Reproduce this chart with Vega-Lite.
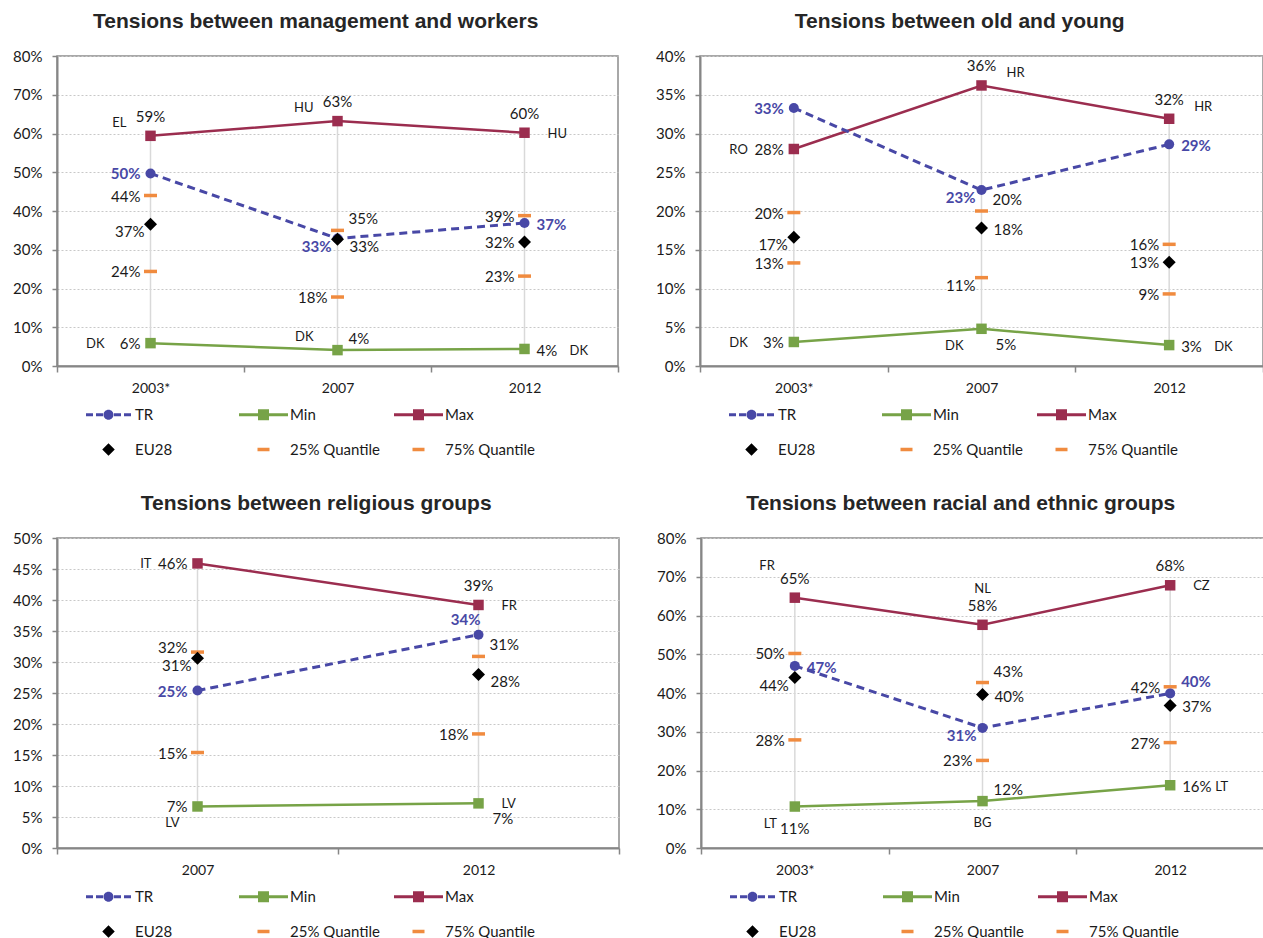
{
  "$schema": "https://vega.github.io/schema/vega-lite/v6.json",
  "background": "white",
  "padding": {"left": 11, "top": 10, "right": 0, "bottom": 0},
  "config": {
    "font": "Lato",
    "view": {"stroke": "#8c8c8c", "strokeWidth": 1.5},
    "axisY": {"domainColor": "#868686", "domainWidth": 2, "tickColor": "#868686", "tickWidth": 1.5, "tickSize": 5, "labelFontSize": 15, "labelColor": "#1a1a1a", "labelPadding": 10, "grid": true, "gridColor": "#c8c8c8", "gridDash": [2, 2], "gridWidth": 1},
    "axisX": {"domainColor": "#868686", "domainWidth": 2, "tickColor": "#868686", "tickWidth": 1.5, "tickSize": 6, "labelFontSize": 14, "labelColor": "#1a1a1a", "labelPadding": 9, "grid": false, "tickBand": "extent", "labelAngle": 0},
    "title": {"font": "Liberation Sans", "fontSize": 21, "fontWeight": "bold", "color": "#262626", "offset": 17, "frame": "bounds", "anchor": "middle"}
  },
  "datasets": {
    "d": [
      {"panel": "A", "year": "2003*", "series": "TR", "value": 0.497, "pos": "W"},
      {"panel": "A", "year": "2003*", "series": "Min", "value": 0.059, "pos": "W", "country": "DK", "cpos": "WW"},
      {"panel": "A", "year": "2003*", "series": "Max", "value": 0.594, "pos": "N", "country": "EL", "cpos": "NWW"},
      {"panel": "A", "year": "2003*", "series": "EU28", "value": 0.366, "pos": "SW"},
      {"panel": "A", "year": "2003*", "series": "25% Quantile", "value": 0.244, "pos": "W"},
      {"panel": "A", "year": "2003*", "series": "75% Quantile", "value": 0.440, "pos": "W"},
      {"panel": "A", "year": "2007", "series": "TR", "value": 0.329, "pos": "SW"},
      {"panel": "A", "year": "2007", "series": "Min", "value": 0.041, "pos": "NE", "country": "DK", "cpos": "NWW"},
      {"panel": "A", "year": "2007", "series": "Max", "value": 0.632, "pos": "N", "country": "HU", "cpos": "NWW"},
      {"panel": "A", "year": "2007", "series": "EU28", "value": 0.327, "pos": "SE"},
      {"panel": "A", "year": "2007", "series": "25% Quantile", "value": 0.178, "pos": "W"},
      {"panel": "A", "year": "2007", "series": "75% Quantile", "value": 0.350, "pos": "NE"},
      {"panel": "A", "year": "2012", "series": "TR", "value": 0.369, "pos": "E"},
      {"panel": "A", "year": "2012", "series": "Min", "value": 0.044, "pos": "E", "country": "DK", "cpos": "EE"},
      {"panel": "A", "year": "2012", "series": "Max", "value": 0.602, "pos": "N", "country": "HU", "cpos": "E2"},
      {"panel": "A", "year": "2012", "series": "EU28", "value": 0.320, "pos": "W"},
      {"panel": "A", "year": "2012", "series": "25% Quantile", "value": 0.232, "pos": "W"},
      {"panel": "A", "year": "2012", "series": "75% Quantile", "value": 0.388, "pos": "W"},

      {"panel": "B", "year": "2003*", "series": "TR", "value": 0.333, "pos": "W"},
      {"panel": "B", "year": "2003*", "series": "Min", "value": 0.031, "pos": "W", "country": "DK", "cpos": "WW"},
      {"panel": "B", "year": "2003*", "series": "Max", "value": 0.280, "pos": "W", "country": "RO", "cpos": "WW"},
      {"panel": "B", "year": "2003*", "series": "EU28", "value": 0.166, "pos": "SW"},
      {"panel": "B", "year": "2003*", "series": "25% Quantile", "value": 0.133, "pos": "W"},
      {"panel": "B", "year": "2003*", "series": "75% Quantile", "value": 0.198, "pos": "W"},
      {"panel": "B", "year": "2007", "series": "TR", "value": 0.227, "pos": "SW"},
      {"panel": "B", "year": "2007", "series": "Min", "value": 0.048, "pos": "SSE", "country": "DK", "cpos": "SW2"},
      {"panel": "B", "year": "2007", "series": "Max", "value": 0.362, "pos": "N", "country": "HR", "cpos": "NEE"},
      {"panel": "B", "year": "2007", "series": "EU28", "value": 0.178, "pos": "E"},
      {"panel": "B", "year": "2007", "series": "25% Quantile", "value": 0.114, "pos": "SW"},
      {"panel": "B", "year": "2007", "series": "75% Quantile", "value": 0.200, "pos": "NE"},
      {"panel": "B", "year": "2012", "series": "TR", "value": 0.286, "pos": "E"},
      {"panel": "B", "year": "2012", "series": "Min", "value": 0.027, "pos": "E", "country": "DK", "cpos": "EE"},
      {"panel": "B", "year": "2012", "series": "Max", "value": 0.319, "pos": "N", "country": "HR", "cpos": "NEE"},
      {"panel": "B", "year": "2012", "series": "EU28", "value": 0.134, "pos": "W"},
      {"panel": "B", "year": "2012", "series": "25% Quantile", "value": 0.093, "pos": "W"},
      {"panel": "B", "year": "2012", "series": "75% Quantile", "value": 0.157, "pos": "W"},

      {"panel": "C", "year": "2007", "series": "TR", "value": 0.254, "pos": "W"},
      {"panel": "C", "year": "2007", "series": "Min", "value": 0.067, "pos": "W", "country": "LV", "cpos": "SW2"},
      {"panel": "C", "year": "2007", "series": "Max", "value": 0.459, "pos": "W", "country": "IT", "cpos": "WW"},
      {"panel": "C", "year": "2007", "series": "EU28", "value": 0.306, "pos": "SW"},
      {"panel": "C", "year": "2007", "series": "25% Quantile", "value": 0.154, "pos": "W"},
      {"panel": "C", "year": "2007", "series": "75% Quantile", "value": 0.316, "pos": "WN"},
      {"panel": "C", "year": "2012", "series": "TR", "value": 0.344, "pos": "NW"},
      {"panel": "C", "year": "2012", "series": "Min", "value": 0.072, "pos": "SSE", "country": "LV", "cpos": "E2"},
      {"panel": "C", "year": "2012", "series": "Max", "value": 0.392, "pos": "N", "country": "FR", "cpos": "E2"},
      {"panel": "C", "year": "2012", "series": "EU28", "value": 0.280, "pos": "SE"},
      {"panel": "C", "year": "2012", "series": "25% Quantile", "value": 0.184, "pos": "W"},
      {"panel": "C", "year": "2012", "series": "75% Quantile", "value": 0.309, "pos": "NE"},

      {"panel": "D", "year": "2003*", "series": "TR", "value": 0.470, "pos": "E"},
      {"panel": "D", "year": "2003*", "series": "Min", "value": 0.107, "pos": "S", "country": "LT", "cpos": "SW2"},
      {"panel": "D", "year": "2003*", "series": "Max", "value": 0.646, "pos": "N", "country": "FR", "cpos": "NNW"},
      {"panel": "D", "year": "2003*", "series": "EU28", "value": 0.440, "pos": "SW"},
      {"panel": "D", "year": "2003*", "series": "25% Quantile", "value": 0.279, "pos": "W"},
      {"panel": "D", "year": "2003*", "series": "75% Quantile", "value": 0.502, "pos": "W"},
      {"panel": "D", "year": "2007", "series": "TR", "value": 0.310, "pos": "SW"},
      {"panel": "D", "year": "2007", "series": "Min", "value": 0.121, "pos": "NE", "country": "BG", "cpos": "S"},
      {"panel": "D", "year": "2007", "series": "Max", "value": 0.576, "pos": "N", "country": "NL", "cpos": "NN"},
      {"panel": "D", "year": "2007", "series": "EU28", "value": 0.396, "pos": "E"},
      {"panel": "D", "year": "2007", "series": "25% Quantile", "value": 0.226, "pos": "W"},
      {"panel": "D", "year": "2007", "series": "75% Quantile", "value": 0.427, "pos": "NE"},
      {"panel": "D", "year": "2012", "series": "TR", "value": 0.399, "pos": "NE"},
      {"panel": "D", "year": "2012", "series": "Min", "value": 0.162, "pos": "E", "country": "LT", "cpos": "EE"},
      {"panel": "D", "year": "2012", "series": "Max", "value": 0.678, "pos": "N", "country": "CZ", "cpos": "E2"},
      {"panel": "D", "year": "2012", "series": "EU28", "value": 0.368, "pos": "E"},
      {"panel": "D", "year": "2012", "series": "25% Quantile", "value": 0.272, "pos": "W"},
      {"panel": "D", "year": "2012", "series": "75% Quantile", "value": 0.416, "pos": "W"}
    ]
  },
  "resolve": {"scale": {"color": "independent", "shape": "independent"}, "legend": {"color": "independent", "shape": "independent"}},
  "spacing": 33,
  "vconcat": [
    {
      "spacing": 34,
      "resolve": {"scale": {"color": "independent", "shape": "independent"}, "legend": {"color": "independent", "shape": "independent"}},
      "hconcat": [
        {
          "title": "Tensions between management and workers",
          "width": 561, "height": 310,
          "data": {"name": "d"},
          "transform": [{"filter": "datum.panel == 'A'"}],
          "encoding": {
            "x": {"field": "year", "type": "nominal", "sort": ["2003*", "2007", "2012"], "scale": {"type": "band", "paddingInner": 0, "paddingOuter": 0}, "axis": {"title": null}},
            "y": {"field": "value", "type": "quantitative", "scale": {"domain": [0, 0.8], "nice": false}, "axis": {"title": null, "format": ".0%", "values": [0, 0.1, 0.2, 0.3, 0.4, 0.5, 0.6, 0.7, 0.8]}}
          },
          "layer": [
            {"mark": {"type": "rule", "color": "#d9d9d9", "strokeWidth": 1.5}, "encoding": {"y": {"aggregate": "min", "field": "value", "type": "quantitative", "scale": {"domain": [0, 0.8], "nice": false}, "axis": {"title": null, "format": ".0%", "values": [0, 0.1, 0.2, 0.3, 0.4, 0.5, 0.6, 0.7, 0.8]}}, "y2": {"aggregate": "max", "field": "value"}}},
            {"transform": [{"filter": "datum.series == 'Max'"}], "mark": {"type": "line", "color": "#9b2d4f", "strokeWidth": 2.5}},
            {"transform": [{"filter": "datum.series == 'Min'"}], "mark": {"type": "line", "color": "#77a347", "strokeWidth": 2.5}},
            {"transform": [{"filter": "datum.series == 'TR'"}], "mark": {"type": "line", "color": "#4848a6", "strokeWidth": 3, "strokeDash": [8, 5]}},
            {"transform": [{"filter": "datum.series == '25% Quantile' || datum.series == '75% Quantile'"}], "mark": {"type": "tick", "color": "#f08b3f", "opacity": 1, "thickness": 3.5, "size": 13, "orient": "horizontal"}},
            {"transform": [{"filter": "datum.series == 'Max'"}], "mark": {"type": "point", "shape": "square", "filled": true, "opacity": 1, "color": "#9b2d4f", "size": 110}},
            {"transform": [{"filter": "datum.series == 'Min'"}], "mark": {"type": "point", "shape": "square", "filled": true, "opacity": 1, "color": "#77a347", "size": 110}},
            {"transform": [{"filter": "datum.series == 'TR'"}], "mark": {"type": "point", "shape": "circle", "filled": true, "opacity": 1, "color": "#4848a6", "size": 100}},
            {"transform": [{"filter": "datum.series == 'EU28'"}], "mark": {"type": "point", "shape": "diamond", "filled": true, "opacity": 1, "color": "#000000", "size": 170}},
            {"transform": [{"filter": "datum.series == 'none'"}], "mark": {"type": "point", "filled": true, "opacity": 1},
              "encoding": {
                "color": {"field": "series", "type": "nominal", "scale": {"domain": ["TR", "Min", "Max", "EU28", "25% Quantile", "75% Quantile"], "range": ["#4848a6", "#77a347", "#9b2d4f", "#000000", "#f08b3f", "#f08b3f"]},
                  "legend": {"title": null, "orient": "none", "legendX": 44, "legendY": 351, "direction": "horizontal", "columns": 3, "columnPadding": 14, "rowPadding": 19, "symbolSize": 100, "symbolStrokeWidth": 0, "symbolOpacity": 1, "labelOffset": 19, "labelFontSize": 15, "labelFont": "Lato", "labelColor": "#1a1a1a", "padding": 0, "gridAlign": "all", "labelLimit": 200}},
                "shape": {"field": "series", "type": "nominal", "scale": {"domain": ["TR", "Min", "Max", "EU28", "25% Quantile", "75% Quantile"], "range": [
                  "M-4.9,0L-4.9,0M4.9,0L4.9,0M-4.5,-0.3H-3.1V0.3H-4.5ZM-2.5,-0.3H-1.1V0.3H-2.5ZM1.1,-0.3H2.5V0.3H1.1ZM3.1,-0.3H4.5V0.3H3.1ZM-1,0A1,1,0,1,0,1,0A1,1,0,1,0,-1,0Z",
                  "M-4.9,-0.3H4.9V0.3H-4.9ZM-1.1,-1.1H1.1V1.1H-1.1Z",
                  "M-4.9,-0.3H4.9V0.3H-4.9ZM-1.1,-1.1H1.1V1.1H-1.1Z",
                  "M-4.9,0L-4.9,0M4.9,0L4.9,0M0,-1.25L1.25,0L0,1.25L-1.25,0Z",
                  "M-4.9,0L-4.9,0M4.9,0L4.9,0M-1.2,-0.35H1.2V0.35H-1.2Z",
                  "M-4.9,0L-4.9,0M4.9,0L4.9,0M-1.2,-0.35H1.2V0.35H-1.2Z"]},
                  "legend": {"title": null, "orient": "none", "legendX": 44, "legendY": 351, "direction": "horizontal", "columns": 3, "columnPadding": 14, "rowPadding": 19, "symbolSize": 100, "symbolStrokeWidth": 0, "symbolOpacity": 1, "labelOffset": 19, "labelFontSize": 15, "labelFont": "Lato", "labelColor": "#1a1a1a", "padding": 0, "gridAlign": "all", "labelLimit": 200}}
              }},
            {"transform": [{"fold": ["pos", "cpos"], "as": ["kind", "where"]}, {"filter": "datum.where != null"}],
              "mark": {"type": "text", "font": "Lato", "baseline": "middle",
                "dx": {"expr": "({N:0,S:0,W:-10,WN:-10,E:12,NE:11,NW:2,SE:12,SW:-6,SSE:14,WW:-46,EE:45,E2:23,NWW:-24,NEE:25,SW2:-18,NNW:-20,NN:0})[datum.where]"},
                "dy": {"expr": "({N:-19,S:22,W:1,WN:-4,E:2,NE:-11,NW:-15,SE:8,SW:8,SSE:16,WW:1,EE:2,E2:1,NWW:-13,NEE:-12,SW2:17,NNW:-32,NN:-36})[datum.where]"},
                "align": {"expr": "indexof(['N','S','NN'], datum.where) >= 0 ? 'center' : (indexof(['W','WN','NW','SW','WW','NWW','SW2','NNW'], datum.where) >= 0 ? 'right' : 'left')"},
                "fontSize": {"expr": "datum.kind == 'cpos' ? 13 : 15"},
                "fontWeight": {"expr": "datum.kind == 'pos' && datum.series == 'TR' ? 'bold' : 'normal'"}},
              "encoding": {
                "text": {"condition": {"test": "datum.kind == 'cpos'", "field": "country", "type": "nominal"}, "field": "value", "type": "quantitative", "format": ".0%"},
                "color": {"condition": {"test": "datum.kind == 'pos' && datum.series == 'TR'", "value": "#4848a6"}, "value": "#1a1a1a"}
              }}
          ]
        },
        {
          "title": "Tensions between old and young",
          "width": 563, "height": 310,
          "data": {"name": "d"},
          "transform": [{"filter": "datum.panel == 'B'"}],
          "encoding": {
            "x": {"field": "year", "type": "nominal", "sort": ["2003*", "2007", "2012"], "scale": {"type": "band", "paddingInner": 0, "paddingOuter": 0}, "axis": {"title": null}},
            "y": {"field": "value", "type": "quantitative", "scale": {"domain": [0, 0.4], "nice": false}, "axis": {"title": null, "format": ".0%", "values": [0, 0.05, 0.1, 0.15, 0.2, 0.25, 0.3, 0.35, 0.4]}}
          },
          "layer": [
            {"mark": {"type": "rule", "color": "#d9d9d9", "strokeWidth": 1.5}, "encoding": {"y": {"aggregate": "min", "field": "value", "type": "quantitative", "scale": {"domain": [0, 0.4], "nice": false}, "axis": {"title": null, "format": ".0%", "values": [0, 0.05, 0.1, 0.15, 0.2, 0.25, 0.3, 0.35, 0.4]}}, "y2": {"aggregate": "max", "field": "value"}}},
            {"transform": [{"filter": "datum.series == 'Max'"}], "mark": {"type": "line", "color": "#9b2d4f", "strokeWidth": 2.5}},
            {"transform": [{"filter": "datum.series == 'Min'"}], "mark": {"type": "line", "color": "#77a347", "strokeWidth": 2.5}},
            {"transform": [{"filter": "datum.series == 'TR'"}], "mark": {"type": "line", "color": "#4848a6", "strokeWidth": 3, "strokeDash": [8, 5]}},
            {"transform": [{"filter": "datum.series == '25% Quantile' || datum.series == '75% Quantile'"}], "mark": {"type": "tick", "color": "#f08b3f", "opacity": 1, "thickness": 3.5, "size": 13, "orient": "horizontal"}},
            {"transform": [{"filter": "datum.series == 'Max'"}], "mark": {"type": "point", "shape": "square", "filled": true, "opacity": 1, "color": "#9b2d4f", "size": 110}},
            {"transform": [{"filter": "datum.series == 'Min'"}], "mark": {"type": "point", "shape": "square", "filled": true, "opacity": 1, "color": "#77a347", "size": 110}},
            {"transform": [{"filter": "datum.series == 'TR'"}], "mark": {"type": "point", "shape": "circle", "filled": true, "opacity": 1, "color": "#4848a6", "size": 100}},
            {"transform": [{"filter": "datum.series == 'EU28'"}], "mark": {"type": "point", "shape": "diamond", "filled": true, "opacity": 1, "color": "#000000", "size": 170}},
            {"transform": [{"filter": "datum.series == 'none'"}], "mark": {"type": "point", "filled": true, "opacity": 1},
              "encoding": {
                "color": {"field": "series", "type": "nominal", "scale": {"domain": ["TR", "Min", "Max", "EU28", "25% Quantile", "75% Quantile"], "range": ["#4848a6", "#77a347", "#9b2d4f", "#000000", "#f08b3f", "#f08b3f"]},
                  "legend": {"title": null, "orient": "none", "legendX": 44, "legendY": 351, "direction": "horizontal", "columns": 3, "columnPadding": 14, "rowPadding": 19, "symbolSize": 100, "symbolStrokeWidth": 0, "symbolOpacity": 1, "labelOffset": 19, "labelFontSize": 15, "labelFont": "Lato", "labelColor": "#1a1a1a", "padding": 0, "gridAlign": "all", "labelLimit": 200}},
                "shape": {"field": "series", "type": "nominal", "scale": {"domain": ["TR", "Min", "Max", "EU28", "25% Quantile", "75% Quantile"], "range": [
                  "M-4.9,0L-4.9,0M4.9,0L4.9,0M-4.5,-0.3H-3.1V0.3H-4.5ZM-2.5,-0.3H-1.1V0.3H-2.5ZM1.1,-0.3H2.5V0.3H1.1ZM3.1,-0.3H4.5V0.3H3.1ZM-1,0A1,1,0,1,0,1,0A1,1,0,1,0,-1,0Z",
                  "M-4.9,-0.3H4.9V0.3H-4.9ZM-1.1,-1.1H1.1V1.1H-1.1Z",
                  "M-4.9,-0.3H4.9V0.3H-4.9ZM-1.1,-1.1H1.1V1.1H-1.1Z",
                  "M-4.9,0L-4.9,0M4.9,0L4.9,0M0,-1.25L1.25,0L0,1.25L-1.25,0Z",
                  "M-4.9,0L-4.9,0M4.9,0L4.9,0M-1.2,-0.35H1.2V0.35H-1.2Z",
                  "M-4.9,0L-4.9,0M4.9,0L4.9,0M-1.2,-0.35H1.2V0.35H-1.2Z"]},
                  "legend": {"title": null, "orient": "none", "legendX": 44, "legendY": 351, "direction": "horizontal", "columns": 3, "columnPadding": 14, "rowPadding": 19, "symbolSize": 100, "symbolStrokeWidth": 0, "symbolOpacity": 1, "labelOffset": 19, "labelFontSize": 15, "labelFont": "Lato", "labelColor": "#1a1a1a", "padding": 0, "gridAlign": "all", "labelLimit": 200}}
              }},
            {"transform": [{"fold": ["pos", "cpos"], "as": ["kind", "where"]}, {"filter": "datum.where != null"}],
              "mark": {"type": "text", "font": "Lato", "baseline": "middle",
                "dx": {"expr": "({N:0,S:0,W:-10,WN:-10,E:12,NE:11,NW:2,SE:12,SW:-6,SSE:14,WW:-46,EE:45,E2:23,NWW:-24,NEE:25,SW2:-18,NNW:-20,NN:0})[datum.where]"},
                "dy": {"expr": "({N:-19,S:22,W:1,WN:-4,E:2,NE:-11,NW:-15,SE:8,SW:8,SSE:16,WW:1,EE:2,E2:1,NWW:-13,NEE:-12,SW2:17,NNW:-32,NN:-36})[datum.where]"},
                "align": {"expr": "indexof(['N','S','NN'], datum.where) >= 0 ? 'center' : (indexof(['W','WN','NW','SW','WW','NWW','SW2','NNW'], datum.where) >= 0 ? 'right' : 'left')"},
                "fontSize": {"expr": "datum.kind == 'cpos' ? 13 : 15"},
                "fontWeight": {"expr": "datum.kind == 'pos' && datum.series == 'TR' ? 'bold' : 'normal'"}},
              "encoding": {
                "text": {"condition": {"test": "datum.kind == 'cpos'", "field": "country", "type": "nominal"}, "field": "value", "type": "quantitative", "format": ".0%"},
                "color": {"condition": {"test": "datum.kind == 'pos' && datum.series == 'TR'", "value": "#4848a6"}, "value": "#1a1a1a"}
              }}
          ]
        }
      ]
    },
    {
      "spacing": 34,
      "resolve": {"scale": {"color": "independent", "shape": "independent"}, "legend": {"color": "independent", "shape": "independent"}},
      "hconcat": [
        {
          "title": "Tensions between religious groups",
          "width": 562, "height": 310,
          "data": {"name": "d"},
          "transform": [{"filter": "datum.panel == 'C'"}],
          "encoding": {
            "x": {"field": "year", "type": "nominal", "sort": ["2007", "2012"], "scale": {"type": "band", "paddingInner": 0, "paddingOuter": 0}, "axis": {"title": null}},
            "y": {"field": "value", "type": "quantitative", "scale": {"domain": [0, 0.5], "nice": false}, "axis": {"title": null, "format": ".0%", "values": [0, 0.05, 0.1, 0.15, 0.2, 0.25, 0.3, 0.35, 0.4, 0.45, 0.5]}}
          },
          "layer": [
            {"mark": {"type": "rule", "color": "#d9d9d9", "strokeWidth": 1.5}, "encoding": {"y": {"aggregate": "min", "field": "value", "type": "quantitative", "scale": {"domain": [0, 0.5], "nice": false}, "axis": {"title": null, "format": ".0%", "values": [0, 0.05, 0.1, 0.15, 0.2, 0.25, 0.3, 0.35, 0.4, 0.45, 0.5]}}, "y2": {"aggregate": "max", "field": "value"}}},
            {"transform": [{"filter": "datum.series == 'Max'"}], "mark": {"type": "line", "color": "#9b2d4f", "strokeWidth": 2.5}},
            {"transform": [{"filter": "datum.series == 'Min'"}], "mark": {"type": "line", "color": "#77a347", "strokeWidth": 2.5}},
            {"transform": [{"filter": "datum.series == 'TR'"}], "mark": {"type": "line", "color": "#4848a6", "strokeWidth": 3, "strokeDash": [8, 5]}},
            {"transform": [{"filter": "datum.series == '25% Quantile' || datum.series == '75% Quantile'"}], "mark": {"type": "tick", "color": "#f08b3f", "opacity": 1, "thickness": 3.5, "size": 13, "orient": "horizontal"}},
            {"transform": [{"filter": "datum.series == 'Max'"}], "mark": {"type": "point", "shape": "square", "filled": true, "opacity": 1, "color": "#9b2d4f", "size": 110}},
            {"transform": [{"filter": "datum.series == 'Min'"}], "mark": {"type": "point", "shape": "square", "filled": true, "opacity": 1, "color": "#77a347", "size": 110}},
            {"transform": [{"filter": "datum.series == 'TR'"}], "mark": {"type": "point", "shape": "circle", "filled": true, "opacity": 1, "color": "#4848a6", "size": 100}},
            {"transform": [{"filter": "datum.series == 'EU28'"}], "mark": {"type": "point", "shape": "diamond", "filled": true, "opacity": 1, "color": "#000000", "size": 170}},
            {"transform": [{"filter": "datum.series == 'none'"}], "mark": {"type": "point", "filled": true, "opacity": 1},
              "encoding": {
                "color": {"field": "series", "type": "nominal", "scale": {"domain": ["TR", "Min", "Max", "EU28", "25% Quantile", "75% Quantile"], "range": ["#4848a6", "#77a347", "#9b2d4f", "#000000", "#f08b3f", "#f08b3f"]},
                  "legend": {"title": null, "orient": "none", "legendX": 44, "legendY": 351, "direction": "horizontal", "columns": 3, "columnPadding": 14, "rowPadding": 19, "symbolSize": 100, "symbolStrokeWidth": 0, "symbolOpacity": 1, "labelOffset": 19, "labelFontSize": 15, "labelFont": "Lato", "labelColor": "#1a1a1a", "padding": 0, "gridAlign": "all", "labelLimit": 200}},
                "shape": {"field": "series", "type": "nominal", "scale": {"domain": ["TR", "Min", "Max", "EU28", "25% Quantile", "75% Quantile"], "range": [
                  "M-4.9,0L-4.9,0M4.9,0L4.9,0M-4.5,-0.3H-3.1V0.3H-4.5ZM-2.5,-0.3H-1.1V0.3H-2.5ZM1.1,-0.3H2.5V0.3H1.1ZM3.1,-0.3H4.5V0.3H3.1ZM-1,0A1,1,0,1,0,1,0A1,1,0,1,0,-1,0Z",
                  "M-4.9,-0.3H4.9V0.3H-4.9ZM-1.1,-1.1H1.1V1.1H-1.1Z",
                  "M-4.9,-0.3H4.9V0.3H-4.9ZM-1.1,-1.1H1.1V1.1H-1.1Z",
                  "M-4.9,0L-4.9,0M4.9,0L4.9,0M0,-1.25L1.25,0L0,1.25L-1.25,0Z",
                  "M-4.9,0L-4.9,0M4.9,0L4.9,0M-1.2,-0.35H1.2V0.35H-1.2Z",
                  "M-4.9,0L-4.9,0M4.9,0L4.9,0M-1.2,-0.35H1.2V0.35H-1.2Z"]},
                  "legend": {"title": null, "orient": "none", "legendX": 44, "legendY": 351, "direction": "horizontal", "columns": 3, "columnPadding": 14, "rowPadding": 19, "symbolSize": 100, "symbolStrokeWidth": 0, "symbolOpacity": 1, "labelOffset": 19, "labelFontSize": 15, "labelFont": "Lato", "labelColor": "#1a1a1a", "padding": 0, "gridAlign": "all", "labelLimit": 200}}
              }},
            {"transform": [{"fold": ["pos", "cpos"], "as": ["kind", "where"]}, {"filter": "datum.where != null"}],
              "mark": {"type": "text", "font": "Lato", "baseline": "middle",
                "dx": {"expr": "({N:0,S:0,W:-10,WN:-10,E:12,NE:11,NW:2,SE:12,SW:-6,SSE:14,WW:-46,EE:45,E2:23,NWW:-24,NEE:25,SW2:-18,NNW:-20,NN:0})[datum.where]"},
                "dy": {"expr": "({N:-19,S:22,W:1,WN:-4,E:2,NE:-11,NW:-15,SE:8,SW:8,SSE:16,WW:1,EE:2,E2:1,NWW:-13,NEE:-12,SW2:17,NNW:-32,NN:-36})[datum.where]"},
                "align": {"expr": "indexof(['N','S','NN'], datum.where) >= 0 ? 'center' : (indexof(['W','WN','NW','SW','WW','NWW','SW2','NNW'], datum.where) >= 0 ? 'right' : 'left')"},
                "fontSize": {"expr": "datum.kind == 'cpos' ? 13 : 15"},
                "fontWeight": {"expr": "datum.kind == 'pos' && datum.series == 'TR' ? 'bold' : 'normal'"}},
              "encoding": {
                "text": {"condition": {"test": "datum.kind == 'cpos'", "field": "country", "type": "nominal"}, "field": "value", "type": "quantitative", "format": ".0%"},
                "color": {"condition": {"test": "datum.kind == 'pos' && datum.series == 'TR'", "value": "#4848a6"}, "value": "#1a1a1a"}
              }}
          ]
        },
        {
          "title": "Tensions between racial and ethnic groups",
          "width": 563, "height": 310,
          "data": {"name": "d"},
          "transform": [{"filter": "datum.panel == 'D'"}],
          "encoding": {
            "x": {"field": "year", "type": "nominal", "sort": ["2003*", "2007", "2012"], "scale": {"type": "band", "paddingInner": 0, "paddingOuter": 0}, "axis": {"title": null}},
            "y": {"field": "value", "type": "quantitative", "scale": {"domain": [0, 0.8], "nice": false}, "axis": {"title": null, "format": ".0%", "values": [0, 0.1, 0.2, 0.3, 0.4, 0.5, 0.6, 0.7, 0.8]}}
          },
          "layer": [
            {"mark": {"type": "rule", "color": "#d9d9d9", "strokeWidth": 1.5}, "encoding": {"y": {"aggregate": "min", "field": "value", "type": "quantitative", "scale": {"domain": [0, 0.8], "nice": false}, "axis": {"title": null, "format": ".0%", "values": [0, 0.1, 0.2, 0.3, 0.4, 0.5, 0.6, 0.7, 0.8]}}, "y2": {"aggregate": "max", "field": "value"}}},
            {"transform": [{"filter": "datum.series == 'Max'"}], "mark": {"type": "line", "color": "#9b2d4f", "strokeWidth": 2.5}},
            {"transform": [{"filter": "datum.series == 'Min'"}], "mark": {"type": "line", "color": "#77a347", "strokeWidth": 2.5}},
            {"transform": [{"filter": "datum.series == 'TR'"}], "mark": {"type": "line", "color": "#4848a6", "strokeWidth": 3, "strokeDash": [8, 5]}},
            {"transform": [{"filter": "datum.series == '25% Quantile' || datum.series == '75% Quantile'"}], "mark": {"type": "tick", "color": "#f08b3f", "opacity": 1, "thickness": 3.5, "size": 13, "orient": "horizontal"}},
            {"transform": [{"filter": "datum.series == 'Max'"}], "mark": {"type": "point", "shape": "square", "filled": true, "opacity": 1, "color": "#9b2d4f", "size": 110}},
            {"transform": [{"filter": "datum.series == 'Min'"}], "mark": {"type": "point", "shape": "square", "filled": true, "opacity": 1, "color": "#77a347", "size": 110}},
            {"transform": [{"filter": "datum.series == 'TR'"}], "mark": {"type": "point", "shape": "circle", "filled": true, "opacity": 1, "color": "#4848a6", "size": 100}},
            {"transform": [{"filter": "datum.series == 'EU28'"}], "mark": {"type": "point", "shape": "diamond", "filled": true, "opacity": 1, "color": "#000000", "size": 170}},
            {"transform": [{"filter": "datum.series == 'none'"}], "mark": {"type": "point", "filled": true, "opacity": 1},
              "encoding": {
                "color": {"field": "series", "type": "nominal", "scale": {"domain": ["TR", "Min", "Max", "EU28", "25% Quantile", "75% Quantile"], "range": ["#4848a6", "#77a347", "#9b2d4f", "#000000", "#f08b3f", "#f08b3f"]},
                  "legend": {"title": null, "orient": "none", "legendX": 44, "legendY": 351, "direction": "horizontal", "columns": 3, "columnPadding": 14, "rowPadding": 19, "symbolSize": 100, "symbolStrokeWidth": 0, "symbolOpacity": 1, "labelOffset": 19, "labelFontSize": 15, "labelFont": "Lato", "labelColor": "#1a1a1a", "padding": 0, "gridAlign": "all", "labelLimit": 200}},
                "shape": {"field": "series", "type": "nominal", "scale": {"domain": ["TR", "Min", "Max", "EU28", "25% Quantile", "75% Quantile"], "range": [
                  "M-4.9,0L-4.9,0M4.9,0L4.9,0M-4.5,-0.3H-3.1V0.3H-4.5ZM-2.5,-0.3H-1.1V0.3H-2.5ZM1.1,-0.3H2.5V0.3H1.1ZM3.1,-0.3H4.5V0.3H3.1ZM-1,0A1,1,0,1,0,1,0A1,1,0,1,0,-1,0Z",
                  "M-4.9,-0.3H4.9V0.3H-4.9ZM-1.1,-1.1H1.1V1.1H-1.1Z",
                  "M-4.9,-0.3H4.9V0.3H-4.9ZM-1.1,-1.1H1.1V1.1H-1.1Z",
                  "M-4.9,0L-4.9,0M4.9,0L4.9,0M0,-1.25L1.25,0L0,1.25L-1.25,0Z",
                  "M-4.9,0L-4.9,0M4.9,0L4.9,0M-1.2,-0.35H1.2V0.35H-1.2Z",
                  "M-4.9,0L-4.9,0M4.9,0L4.9,0M-1.2,-0.35H1.2V0.35H-1.2Z"]},
                  "legend": {"title": null, "orient": "none", "legendX": 44, "legendY": 351, "direction": "horizontal", "columns": 3, "columnPadding": 14, "rowPadding": 19, "symbolSize": 100, "symbolStrokeWidth": 0, "symbolOpacity": 1, "labelOffset": 19, "labelFontSize": 15, "labelFont": "Lato", "labelColor": "#1a1a1a", "padding": 0, "gridAlign": "all", "labelLimit": 200}}
              }},
            {"transform": [{"fold": ["pos", "cpos"], "as": ["kind", "where"]}, {"filter": "datum.where != null"}],
              "mark": {"type": "text", "font": "Lato", "baseline": "middle",
                "dx": {"expr": "({N:0,S:0,W:-10,WN:-10,E:12,NE:11,NW:2,SE:12,SW:-6,SSE:14,WW:-46,EE:45,E2:23,NWW:-24,NEE:25,SW2:-18,NNW:-20,NN:0})[datum.where]"},
                "dy": {"expr": "({N:-19,S:22,W:1,WN:-4,E:2,NE:-11,NW:-15,SE:8,SW:8,SSE:16,WW:1,EE:2,E2:1,NWW:-13,NEE:-12,SW2:17,NNW:-32,NN:-36})[datum.where]"},
                "align": {"expr": "indexof(['N','S','NN'], datum.where) >= 0 ? 'center' : (indexof(['W','WN','NW','SW','WW','NWW','SW2','NNW'], datum.where) >= 0 ? 'right' : 'left')"},
                "fontSize": {"expr": "datum.kind == 'cpos' ? 13 : 15"},
                "fontWeight": {"expr": "datum.kind == 'pos' && datum.series == 'TR' ? 'bold' : 'normal'"}},
              "encoding": {
                "text": {"condition": {"test": "datum.kind == 'cpos'", "field": "country", "type": "nominal"}, "field": "value", "type": "quantitative", "format": ".0%"},
                "color": {"condition": {"test": "datum.kind == 'pos' && datum.series == 'TR'", "value": "#4848a6"}, "value": "#1a1a1a"}
              }}
          ]
        }
      ]
    }
  ]
}
